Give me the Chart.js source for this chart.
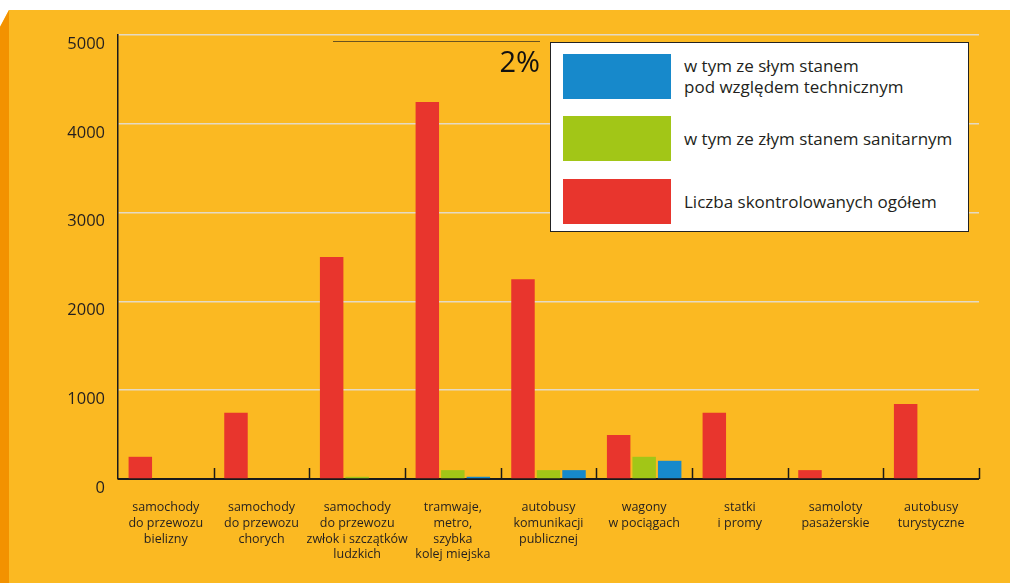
<!DOCTYPE html>
<html lang="pl">
<head>
<meta charset="utf-8">
<title>Kontrola środków transportu</title>
<script src="https://cdn.jsdelivr.net/npm/chart.js@4.4.1/dist/chart.umd.min.js"></script>
<style>
    html, body {
        margin: 0;
        padding: 0;
        background: #ffffff;
        font-family: 'Open Sans', sans-serif;
    }
    #wrap {
        position: relative;
        width: 1010px;
        height: 583px;
    }
    #chart {
        position: absolute;
        left: 0;
        top: 0;
    }
    #legend {
        position: absolute;
        left: 550px;
        top: 42px;
        width: 419px;
        height: 190px;
        background: #ffffff;
        border: 1.5px solid #222;
        box-sizing: border-box;
    }
    .item {
        position: absolute;
        left: 12px;
        width: 108px;
        height: 45px;
    }
    .txt {
        position: absolute;
        left: 133px;
        font-size: 17px;
        line-height: 21px;
        color: #231f20;
        white-space: nowrap;
    }
    #pct {
        position: absolute;
        left: 333px;
        top: 41px;
        width: 207px;
        border-top: 1.5px solid #6b5320;
        text-align: right;
        font-size: 29px;
        line-height: 38px;
        color: #111;
    }
</style>
</head>
<body>
<div id="wrap">
    <canvas id="chart" width="1010" height="583"></canvas>
    <div id="pct">2%</div>
    <div id="legend"></div>
</div>
<script>
const categories = [
    ['samochody', 'do przewozu', 'bielizny'],
    ['samochody', 'do przewozu', 'chorych'],
    ['samochody', 'do przewozu', 'zwłok i szczątków', 'ludzkich'],
    ['tramwaje,', 'metro,', 'szybka', 'kolej miejska'],
    ['autobusy', 'komunikacji', 'publicznej'],
    ['wagony', 'w pociągach'],
    ['statki', 'i promy'],
    ['samoloty', 'pasażerskie'],
    ['autobusy', 'turystyczne']
];

const totalChecked = [250, 745, 2500, 4245, 2250, 495, 745, 100, 845];
const badSanitary = [0, 0, 25, 100, 100, 250, 0, 0, 0];
const badTechnical = [0, 0, 0, 25, 100, 205, 0, 0, 0];

const yTicks = [0, 1000, 2000, 3000, 4000, 5000];

const seriesNames = {
    total: 'Liczba skontrolowanych ogółem',
    sanitary: 'w tym ze złym stanem sanitarnym',
    technical: ['w tym ze słym stanem', 'pod względem technicznym']
};

const RED = '#e8352d';
const GREEN = '#a2c617';
const BLUE = '#1789cb';
const TEXT = '#231f20';

// background panel with the darker left edge
const panelBg = {
    id: 'panelBg',
    beforeDraw(chart) {
        const c = chart.ctx;
        c.save();
        c.fillStyle = '#ffffff';
        c.fillRect(0, 0, chart.width, chart.height);
        c.fillStyle = '#fbb922';
        c.beginPath();
        c.moveTo(0, 27);
        c.lineTo(9, 10);
        c.lineTo(chart.width, 10);
        c.lineTo(chart.width, chart.height);
        c.lineTo(0, chart.height);
        c.closePath();
        c.fill();
        c.fillStyle = '#f39200';
        c.beginPath();
        c.moveTo(0, 27);
        c.lineTo(9, 10);
        c.lineTo(9, chart.height);
        c.lineTo(0, chart.height);
        c.closePath();
        c.fill();
        c.restore();
    }
};

// x axis line under the bars, small upward ticks between categories
const catTicks = {
    id: 'catTicks',
    beforeDatasetsDraw(chart) {
        const c = chart.ctx;
        const bottom = chart.chartArea.bottom;
        c.save();
        c.strokeStyle = '#1a1a1a';
        c.lineWidth = 2;
        c.beginPath();
        c.moveTo(chart.chartArea.left, bottom);
        c.lineTo(chart.chartArea.right, bottom);
        c.stroke();
        c.restore();
    },
    afterDatasetsDraw(chart) {
        const x = chart.scales.x;
        const c = chart.ctx;
        const bottom = chart.chartArea.bottom;
        const half = (x.getPixelForValue(1) - x.getPixelForValue(0)) / 2;
        c.save();
        c.strokeStyle = '#1a1a1a';
        c.lineWidth = 1.5;
        for (let i = 0; i < categories.length; i++) {
            const px = Math.round(x.getPixelForValue(i) + half) + 0.5;
            c.beginPath();
            c.moveTo(px, bottom);
            c.lineTo(px, bottom - 11);
            c.stroke();
        }
        c.restore();
    }
};

new Chart(document.getElementById('chart'), {
    type: 'bar',
    data: {
        labels: categories,
        datasets: [
            { label: seriesNames.total, data: totalChecked, backgroundColor: RED },
            { label: seriesNames.sanitary, data: badSanitary, backgroundColor: GREEN },
            { label: seriesNames.technical.join(' '), data: badTechnical, backgroundColor: BLUE }
        ]
    },
    options: {
        responsive: false,
        animation: false,
        layout: {
            padding: { left: 0, top: 35, right: 31, bottom: 0 }
        },
        datasets: {
            bar: {
                barPercentage: 0.92,
                categoryPercentage: 0.8
            }
        },
        scales: {
            x: {
                grid: { display: false },
                border: { display: false },
                ticks: {
                    color: TEXT,
                    padding: 13,
                    maxRotation: 0,
                    autoSkip: false,
                    font: { family: 'Open Sans', size: 12.5, lineHeight: 1.25 }
                },
                afterFit(scale) { scale.height = 104; }
            },
            y: {
                min: 0,
                max: 5000,
                afterBuildTicks(scale) {
                    scale.ticks = yTicks.map(v => ({ value: v }));
                },
                grid: {
                    color: 'rgba(225,222,215,0.9)',
                    lineWidth: 1.5,
                    drawTicks: false
                },
                border: { display: true, color: '#1a1a1a', width: 1.5 },
                ticks: {
                    color: TEXT,
                    padding: 13,
                    labelOffset: 9,
                    callback: v => String(v),
                    font: { family: 'Open Sans', size: 16.5 }
                },
                afterFit(scale) { scale.width = 118; }
            }
        },
        plugins: {
            legend: { display: false },
            tooltip: { enabled: false }
        }
    },
    plugins: [panelBg, catTicks]
});

// legend built from the series names
const legendEl = document.getElementById('legend');
const legendRows = [
    { color: BLUE, lines: seriesNames.technical, top: 11 },
    { color: GREEN, lines: [seriesNames.sanitary], top: 73 },
    { color: RED, lines: [seriesNames.total], top: 136 }
];
legendRows.forEach(row => {
    const sw = document.createElement('div');
    sw.className = 'item';
    sw.style.top = row.top + 'px';
    sw.style.background = row.color;
    legendEl.appendChild(sw);

    const t = document.createElement('div');
    t.className = 'txt';
    t.innerHTML = row.lines.join('<br>');
    t.style.top = (row.top + 22 - row.lines.length * 10.5) + 'px';
    legendEl.appendChild(t);
});
</script>
</body>
</html>
